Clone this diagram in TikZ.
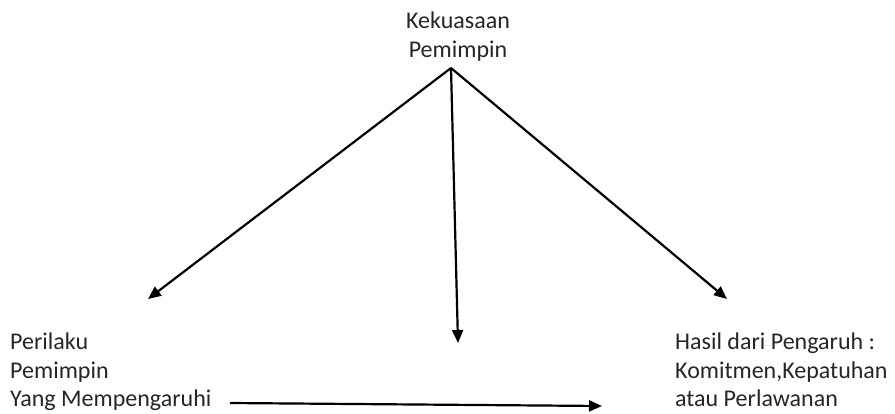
\documentclass[tikz,border=0pt]{standalone}
\usepackage{fontspec}
\setmainfont{Carlito}
\usetikzlibrary{arrows.meta}
\definecolor{txt}{RGB}{38,38,38}
\tikzset{
  lbl/.style={inner sep=0pt, text=txt, font=\fontsize{24pt}{28.5pt}\selectfont},
  arr/.style={draw=black, line width=2.2pt, -{Triangle[length=13pt,width=11pt]}}
}
\begin{document}
\begin{tikzpicture}[x=1pt,y=-1pt]
\useasboundingbox[fill=white] (0,0) rectangle (895,413);
\node[lbl, align=center, anchor=north] (top) at (458,12) {Kekuasaan\\Pemimpin};
\node[lbl, align=left, anchor=north west] (left) at (10,333) {Perilaku\\Pemimpin\\Yang Mempengaruhi};
\node[lbl, align=left, anchor=north west] (right) at (675,333) {Hasil dari Pengaruh :\\Komitmen,Kepatuhan\\atau Perlawanan};
\coordinate (o) at (451,68);
\coordinate (l) at (148,299);
\coordinate (m) at (458,343);
\coordinate (r) at (727,299);
\coordinate (hs) at (230,403);
\coordinate (he) at (602,406);
\draw[arr] (o) -- (l);
\draw[arr] (o) -- (m);
\draw[arr] (o) -- (r);
\draw[arr] (hs) -- (he);
\end{tikzpicture}
\end{document}
